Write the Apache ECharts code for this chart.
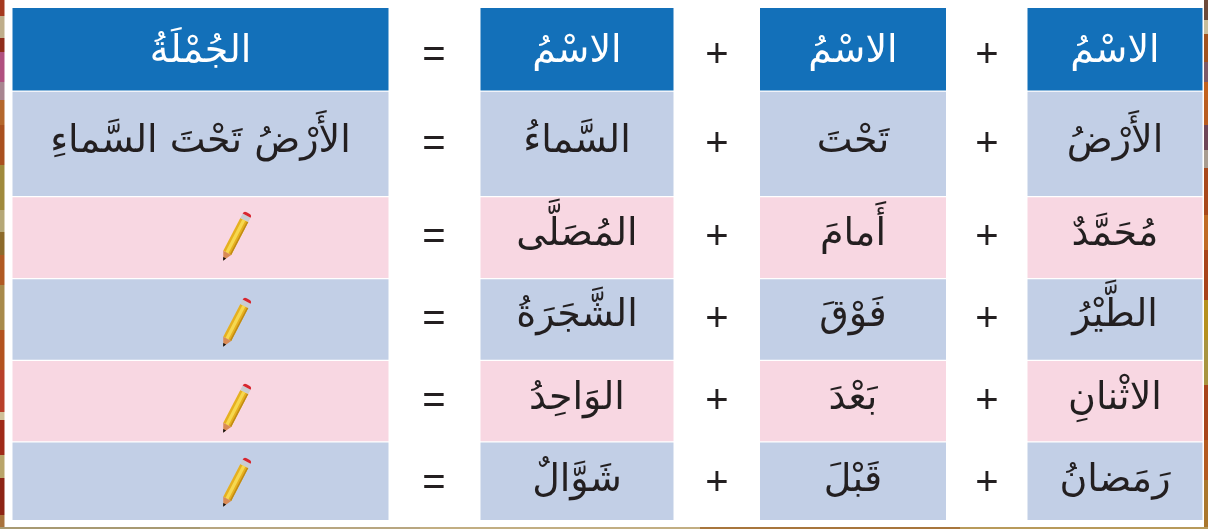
<!DOCTYPE html>
<html>
<head>
<meta charset="utf-8">
<style>
html, body { margin: 0; padding: 0; background: #fff; }
#chart { width: 1208px; height: 529px; }
</style>
<script src="https://cdn.jsdelivr.net/npm/echarts@6/dist/echarts.min.js"></script>
</head>
<body>
<div id="chart"></div>
<script>
// table content, right to left in the picture
var headerLabels = ['الجُمْلَةُ', 'الاسْمُ', 'الاسْمُ', 'الاسْمُ']
var sentences = ['الأَرْضُ تَحْتَ السَّماءِ', '', '', '', '']
var thirdNouns = ['السَّماءُ', 'المُصَلَّى', 'الشَّجَرَةُ', 'الوَاحِدُ', 'شَوَّالٌ']
var secondNouns = ['تَحْتَ', 'أَمامَ', 'فَوْقَ', 'بَعْدَ', 'قَبْلَ']
var firstNouns = ['الأَرْضُ', 'مُحَمَّدٌ', 'الطَّيْرُ', 'الاثْنانِ', 'رَمَضانُ']
var operators = ['=', '+', '+']

// layout of the table, in pixels of the picture
var colEdges = [[12.5, 388.5], [480.5, 673.5], [760, 946], [1027.5, 1202.5]]
var rowEdges = [[8, 90.5], [91.8, 196], [197.3, 278], [279.2, 359.8], [361, 441.2], [442.6, 520]]
var operatorX = [434, 717, 987]
var operatorY = [56, 145, 238, 320, 402, 484]
var textY = [52, 142, 235, 316, 399, 481]
var pencilY = [236, 322, 408, 482]
var rowColors = ['#1370b9', '#c2cfe6', '#f8d7e2', '#c2cfe6', '#f8d7e2', '#c2cfe6']

// photo showing at the page edges
var leftBand = [[16, '#a5391f'], [38, '#bfae8b'], [52, '#8f2c1a'], [82, '#b0507f'], [100, '#a88590'], [125, '#b4672c'], [165, '#a9501f'], [210, '#a08a3c'], [232, '#b5a877'], [255, '#8c6a2a'], [285, '#b05a22'], [330, '#a88a4a'], [370, '#b3531f'], [412, '#b8402a'], [420, '#cfc098'], [455, '#9f2a18'], [478, '#b9a56a'], [515, '#8d2415'], [529, '#a9733c']]
var rightBand = [[20, '#6c4a3a'], [34, '#c7bc9a'], [62, '#a0521f'], [82, '#7d5a68'], [100, '#c2621e'], [125, '#b85c20'], [150, '#6e4658'], [168, '#a89c90'], [215, '#a8481c'], [250, '#c06a24'], [300, '#a8431b'], [340, '#b5901e'], [385, '#a89440'], [440, '#a8431b'], [480, '#b35a20'], [529, '#a9762c']]
var bottomBand = [[200, '#a89a72'], [420, '#b8a680'], [700, '#c2ae82'], [960, '#a8763c'], [1208, '#b89a5a']]

var chart = echarts.init(document.getElementById('chart'))

var table = [headerLabels]
for (var r = 0; r < firstNouns.length; r++) {
  table.push([sentences[r], thirdNouns[r], secondNouns[r], firstNouns[r]])
}

var cellData = []
for (var i = 0; i < table.length; i++) {
  for (var j = 0; j < colEdges.length; j++) {
    cellData.push([j, i])
  }
}

var operatorData = []
for (var m = 0; m < operatorY.length; m++) {
  for (var n = 0; n < operators.length; n++) {
    operatorData.push([operatorX[n], operatorY[m], n])
  }
}

var bandData = []
function addBand(band, side) {
  var start = 0
  band.forEach(function (item) {
    bandData.push([side, start, item[0], item[1]])
    start = item[0]
  })
}
addBand(leftBand, 0)
addBand(rightBand, 1)
addBand(bottomBand, 2)

function renderBand(params, api) {
  var b = bandData[params.dataIndex]
  var x = b[0] === 0 ? 0 : 1204
  var p0, p1
  if (b[0] === 2) {
    p0 = api.coord([b[1], 527])
    p1 = api.coord([b[2], 529])
  } else {
    p0 = api.coord([x, b[1]])
    p1 = api.coord([x + 4.5, b[2]])
  }
  return {
    type: 'rect',
    shape: { x: p0[0], y: p0[1], width: p1[0] - p0[0], height: p1[1] - p0[1] },
    style: { fill: b[3] }
  }
}

function renderCell(params, api) {
  var c = api.value(0)
  var row = api.value(1)
  var p0 = api.coord([colEdges[c][0], rowEdges[row][0]])
  var p1 = api.coord([colEdges[c][1], rowEdges[row][1]])
  var mid = api.coord([(colEdges[c][0] + colEdges[c][1]) / 2, textY[row]])
  return {
    type: 'group',
    children: [{
      type: 'rect',
      shape: { x: p0[0], y: p0[1], width: p1[0] - p0[0], height: p1[1] - p0[1] },
      style: { fill: rowColors[row] }
    }, {
      type: 'text',
      style: {
        text: table[row][c],
        x: mid[0],
        y: mid[1],
        align: 'center',
        verticalAlign: 'middle',
        fill: row === 0 ? '#ffffff' : '#231f20',
        font: '38px "DejaVu Sans"'
      }
    }]
  }
}

function renderOperator(params, api) {
  var p = api.coord([api.value(0), api.value(1)])
  return {
    type: 'text',
    style: {
      text: operators[api.value(2)],
      x: p[0],
      y: p[1],
      align: 'center',
      verticalAlign: 'middle',
      fill: '#231f20',
      font: '40px "Liberation Sans"'
    }
  }
}

function renderPencil(params, api) {
  var p = api.coord([api.value(0), api.value(1)])
  return {
    type: 'group',
    x: p[0],
    y: p[1],
    rotation: -27.5 * Math.PI / 180,
    children: [
      { type: 'rect', shape: { x: -4.5, y: -18, width: 9, height: 37 }, style: { fill: '#e6b020' } },
      { type: 'rect', shape: { x: -2, y: -18, width: 3.2, height: 37 }, style: { fill: '#f6d850' } },
      { type: 'rect', shape: { x: 3, y: -18, width: 1.5, height: 37 }, style: { fill: '#c08a14' } },
      { type: 'polygon', shape: { points: [[-4.5, 19], [4.5, 19], [0, 27.5]] }, style: { fill: '#d98a55' } },
      { type: 'polygon', shape: { points: [[-1.6, 24.5], [1.6, 24.5], [0, 28]] }, style: { fill: '#111111' } },
      { type: 'rect', shape: { x: -4.5, y: -23, width: 9, height: 5 }, style: { fill: '#c9ccd2' } },
      { type: 'rect', shape: { x: -4.5, y: -26, width: 9, height: 3, r: [3, 3, 0, 0] }, style: { fill: '#d8262f' } }
    ]
  }
}

chart.setOption({
  animation: false,
  grid: { left: 0, right: 0, top: 0, bottom: 0 },
  xAxis: { type: 'value', min: 0, max: 1208, show: false },
  yAxis: { type: 'value', min: 0, max: 529, inverse: true, show: false },
  series: [
    { type: 'custom', silent: true, data: bandData.map(function (b) { return [b[1], b[2]] }), renderItem: renderBand, clip: false },
    { type: 'custom', silent: true, data: cellData, renderItem: renderCell, clip: false },
    { type: 'custom', silent: true, data: operatorData, renderItem: renderOperator, clip: false },
    {
      type: 'custom',
      silent: true,
      data: pencilY.map(function (y) { return [236, y] }),
      renderItem: renderPencil,
      clip: false
    }
  ]
})
</script>
</body>
</html>
